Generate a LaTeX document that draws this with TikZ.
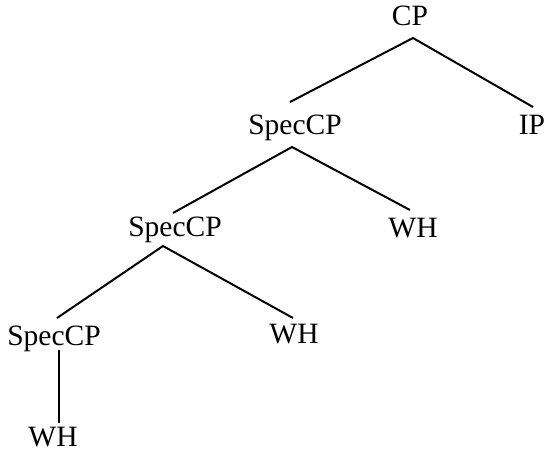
\documentclass[tikz,border=0pt]{standalone}
\usepackage{fontspec}
\setmainfont{Liberation Serif}
\begin{document}
\begin{tikzpicture}[x=1pt,y=-1pt,
  lbl/.style={anchor=base,inner sep=0pt,font=\fontsize{29.5}{34}\selectfont},
  edge/.style={line width=2pt}]
\useasboundingbox (0,0) rectangle (547,451);
\node[lbl] (cp)  at (410,25)  {CP};
\node[lbl] (s1)  at (295,134) {SpecCP};
\node[lbl] (ip)  at (532,134) {IP};
\node[lbl] (s2)  at (175,236) {SpecCP};
\node[lbl] (wh1) at (413,237) {WH};
\node[lbl] (s3)  at (54,345)  {SpecCP};
\node[lbl] (wh2) at (294,343) {WH};
\node[lbl] (wh3) at (53,446)  {WH};
\draw[edge] ([shift={(-5,-32)}]s1.base) -- ([shift={(3,13)}]cp.base) -- ([shift={(1,-27)}]ip.base);
\draw[edge] ([shift={(-2,-23)}]s2.base) -- ([shift={(-3,13)}]s1.base) -- ([shift={(-3,-27)}]wh1.base);
\draw[edge] ([shift={(3,-27)}]s3.base) -- ([shift={(-12,10)}]s2.base) -- ([shift={(-1,-25)}]wh2.base);
\draw[edge] ([shift={(5,5)}]s3.base) -- ([shift={(6,-23)}]wh3.base);
\end{tikzpicture}
\end{document}
